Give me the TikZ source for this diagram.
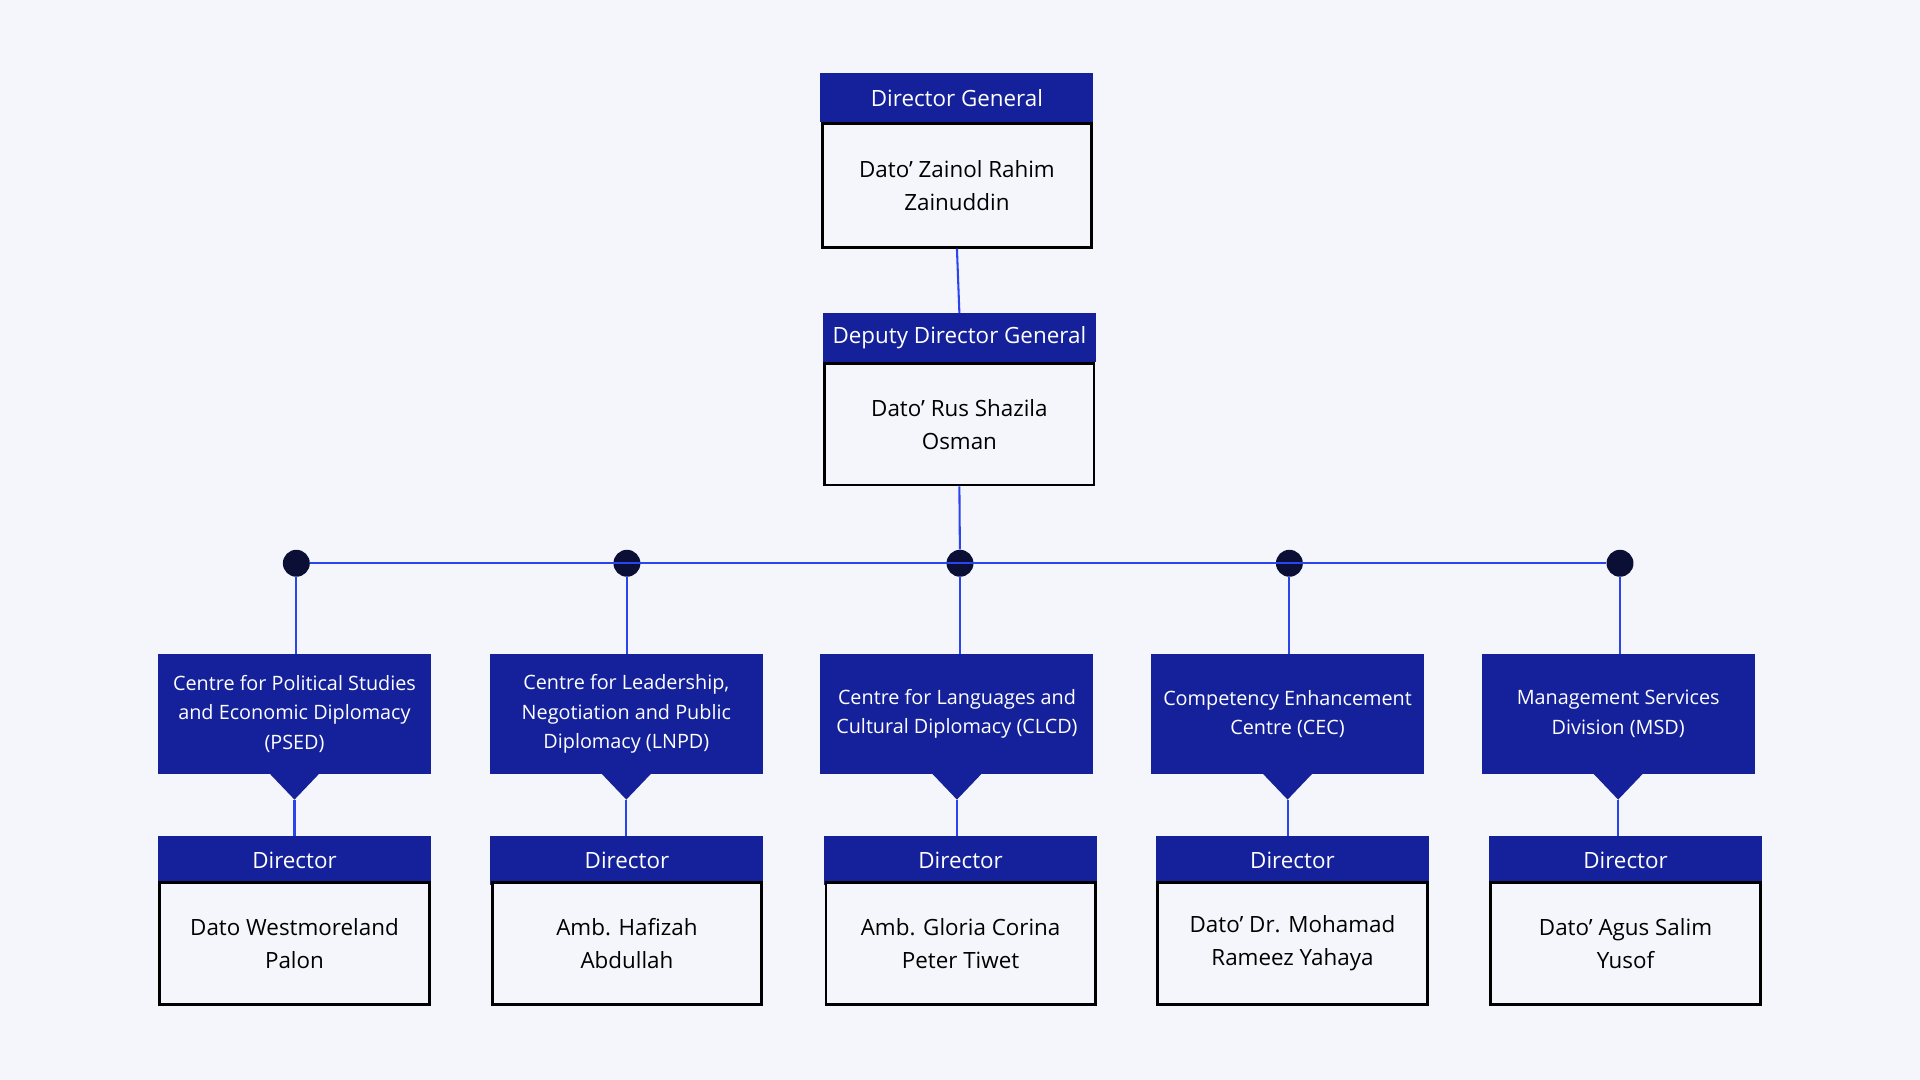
\documentclass[tikz,border=0pt]{standalone}
\usepackage{fontspec}
\setmainfont{Open Sans}
\begin{document}
\begin{tikzpicture}[x=0.025cm,y=-0.025cm]
\definecolor{bg}{HTML}{F4F6FB}
\definecolor{navy}{HTML}{14219A}
\definecolor{dotc}{HTML}{0B0F35}
\definecolor{linec}{HTML}{2B45EE}
\tikzset{
 hdr/.style={fill=navy,text=white,minimum width=223*0.025cm,minimum height=40*0.025cm,inner sep=0pt,font=\fontsize{13}{15}\selectfont},
 body/.style={draw=black,line width=1.6pt,fill=bg,minimum width=220*0.025cm,minimum height=100*0.025cm,align=center,inner sep=0pt,font=\fontsize{13}{19}\selectfont},
 ctr/.style={fill=navy,text=white,minimum width=223*0.025cm,minimum height=98*0.025cm,align=center,inner sep=0pt,font=\fontsize{11.5}{17}\selectfont},
 conn/.style={draw=linec,line width=1.2pt},
 dotn/.style={circle,fill=dotc,minimum size=22*0.025cm,inner sep=0pt}
}
\fill[bg] (0,0) rectangle (1568,882);
% top
\node[hdr] (dgh) at (781.5,80) {Director General};
\node[body,minimum height=101*0.025cm] (dgb) at (781.5,151.5) {Dato' Zainol Rahim\\Zainuddin};
\node[hdr] (ddh) at (783.5,276) {Deputy Director General};
\node[body,minimum height=99*0.025cm] (ddb) at (783.5,346.5) {Dato' Rus Shazila\\Osman};
\path[conn] (dgb.south) -- (ddh.north);
% dots
\foreach \i/\x in {1/242,2/512,3/784,4/1053,5/1323}{\node[dotn] (d\i) at (\x,460) {};}
\path[conn] (d1) -- (d5);
\path[conn] (ddb.south) -- (d3);
% centres
\foreach \i/\cx/\dx/\txt/\nm in {
 1/240.5/240.5/{Centre for Political Studies\\and Economic Diplomacy\\(PSED)}/{Dato Westmoreland\\Palon},
 2/511.5/512/{Centre for Leadership,\\Negotiation and Public\\Diplomacy (LNPD)}/{Amb. Hafizah\\Abdullah},
 3/781.5/784.5/{Centre for Languages and\\Cultural Diplomacy (CLCD)}/{Amb. Gloria Corina\\Peter Tiwet},
 4/1051.5/1055.5/{Competency Enhancement\\Centre (CEC)}/{Dato' Dr. Mohamad\\Rameez Yahaya},
 5/1321.5/1327.5/{Management Services\\Division (MSD)}/{Dato' Agus Salim\\Yusof}}{
 \node[ctr] (c\i) at (\cx,583) {\txt};
 \fill[navy] (\cx-21,631) -- (\cx+21,631) -- (\cx,653) coordinate (t\i) -- cycle;
 \node[hdr] (h\i) at (\dx,703) {Director};
 \node[body] (b\i) at (\dx,770.5) {\nm};
 \path[conn] (d\i) -- (d\i |- c\i.north);
 \path[conn] (t\i) -- (t\i |- h\i.north);
}
\end{tikzpicture}
\end{document}
